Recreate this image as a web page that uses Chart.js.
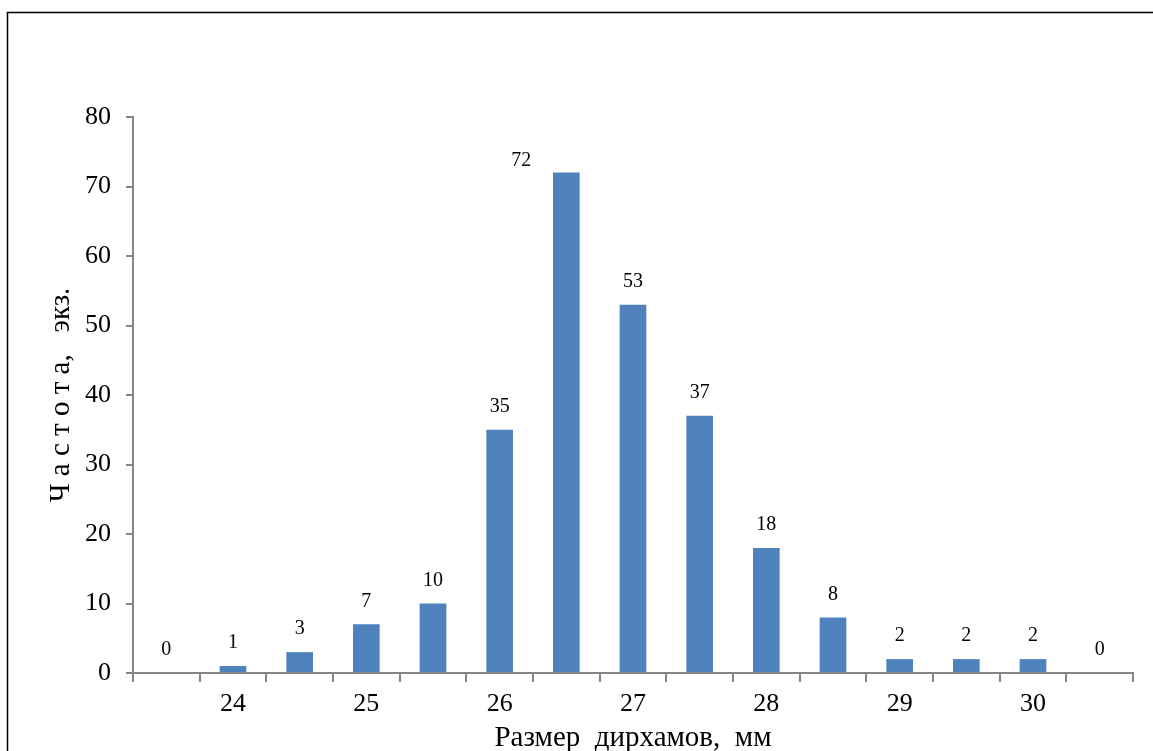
<!DOCTYPE html>
<html>
<head>
<meta charset="utf-8">
<script src="https://cdn.jsdelivr.net/npm/chart.js@4"></script>
<style>
html,body{margin:0;padding:0;background:#fff;}
#wrap{width:1153px;height:751px;position:relative;}
</style>
</head>
<body>
<div id="wrap"><canvas id="c" width="1153" height="751"></canvas></div>
<script>
const categories = ["", "24", "", "25", "", "26", "", "27", "", "28", "", "29", "", "30", ""];
const frequencies = [0, 1, 3, 7, 10, 35, 72, 53, 37, 18, 8, 2, 2, 2, 0];
const yTicks = [0, 10, 20, 30, 40, 50, 60, 70, 80];
const xTitle = "Размер  дирхамов,  мм";
const yTitle = "Ч а с т о т а,   экз.";

const SERIF = "'Liberation Serif', 'Times New Roman', serif";
const AXIS = "#868686";

const framePlugin = {
  id: 'frame',
  beforeDraw(chart) {
    const ctx = chart.ctx;
    ctx.save();
    ctx.fillStyle = '#fff';
    ctx.fillRect(0, 0, chart.width, chart.height);
    ctx.strokeStyle = '#000';
    ctx.lineWidth = 1.5;
    ctx.beginPath();
    ctx.moveTo(1160, 12.5);
    ctx.lineTo(7.5, 12.5);
    ctx.lineTo(7.5, 760);
    ctx.stroke();
    ctx.restore();
  }
};

const labelPlugin = {
  id: 'barLabels',
  afterDatasetsDraw(chart) {
    const ctx = chart.ctx;
    const meta = chart.getDatasetMeta(0);
    const ds = chart.data.datasets[0].data;
    ctx.save();
    ctx.font = "20px " + SERIF;
    ctx.fillStyle = '#000';
    ctx.textAlign = 'center';
    ctx.textBaseline = 'middle';
    const maxV = Math.max(...ds);
    meta.data.forEach((bar, i) => {
      let x = bar.x, y = bar.y - 23;
      // the peak label sits to the upper left of its bar in the original
      if (ds[i] === maxV) { x -= 45; y = bar.y - 12; }
      ctx.fillText(String(ds[i]), x, y);
    });
    ctx.restore();
  }
};

new Chart(document.getElementById('c'), {
  type: 'bar',
  data: {
    labels: categories,
    datasets: [{
      data: frequencies,
      backgroundColor: '#4F81BD',
      borderWidth: 0,
      categoryPercentage: 1,
      barPercentage: 0.4
    }]
  },
  options: {
    responsive: false,
    animation: false,
    events: [],
    layout: { padding: { left: 0, top: 117, right: 20, bottom: 0 } },
    plugins: { legend: { display: false }, tooltip: { enabled: false } },
    scales: {
      x: {
        offset: true,
        grid: { offset: true, drawOnChartArea: false, drawTicks: true, tickLength: 9, color: AXIS, lineWidth: 2 },
        border: { color: AXIS, width: 2 },
        ticks: { autoSkip: false, maxRotation: 0, color: '#000', font: { family: SERIF, size: 26 }, padding: 7 },
        title: { display: true, text: xTitle, color: '#000', font: { family: SERIF, size: 29, lineHeight: 0.9 }, padding: { top: 0, bottom: 0 } },
        afterFit(s) { s.height = 78; }
      },
      y: {
        min: 0, max: 80,
        afterBuildTicks(s) { s.ticks = yTicks.map(v => ({ value: v })); },
        grid: { drawOnChartArea: false, drawTicks: true, tickLength: 7, color: AXIS, lineWidth: 2 },
        border: { color: AXIS, width: 2 },
        ticks: { color: '#000', font: { family: SERIF, size: 26 }, padding: 15 },
        title: { display: true, text: yTitle, color: '#000', font: { family: SERIF, size: 29, lineHeight: 1 }, padding: { top: 47, bottom: 0 } },
        afterFit(s) { s.width = 133; }
      }
    }
  },
  plugins: [framePlugin, labelPlugin]
});
</script>
</body>
</html>
